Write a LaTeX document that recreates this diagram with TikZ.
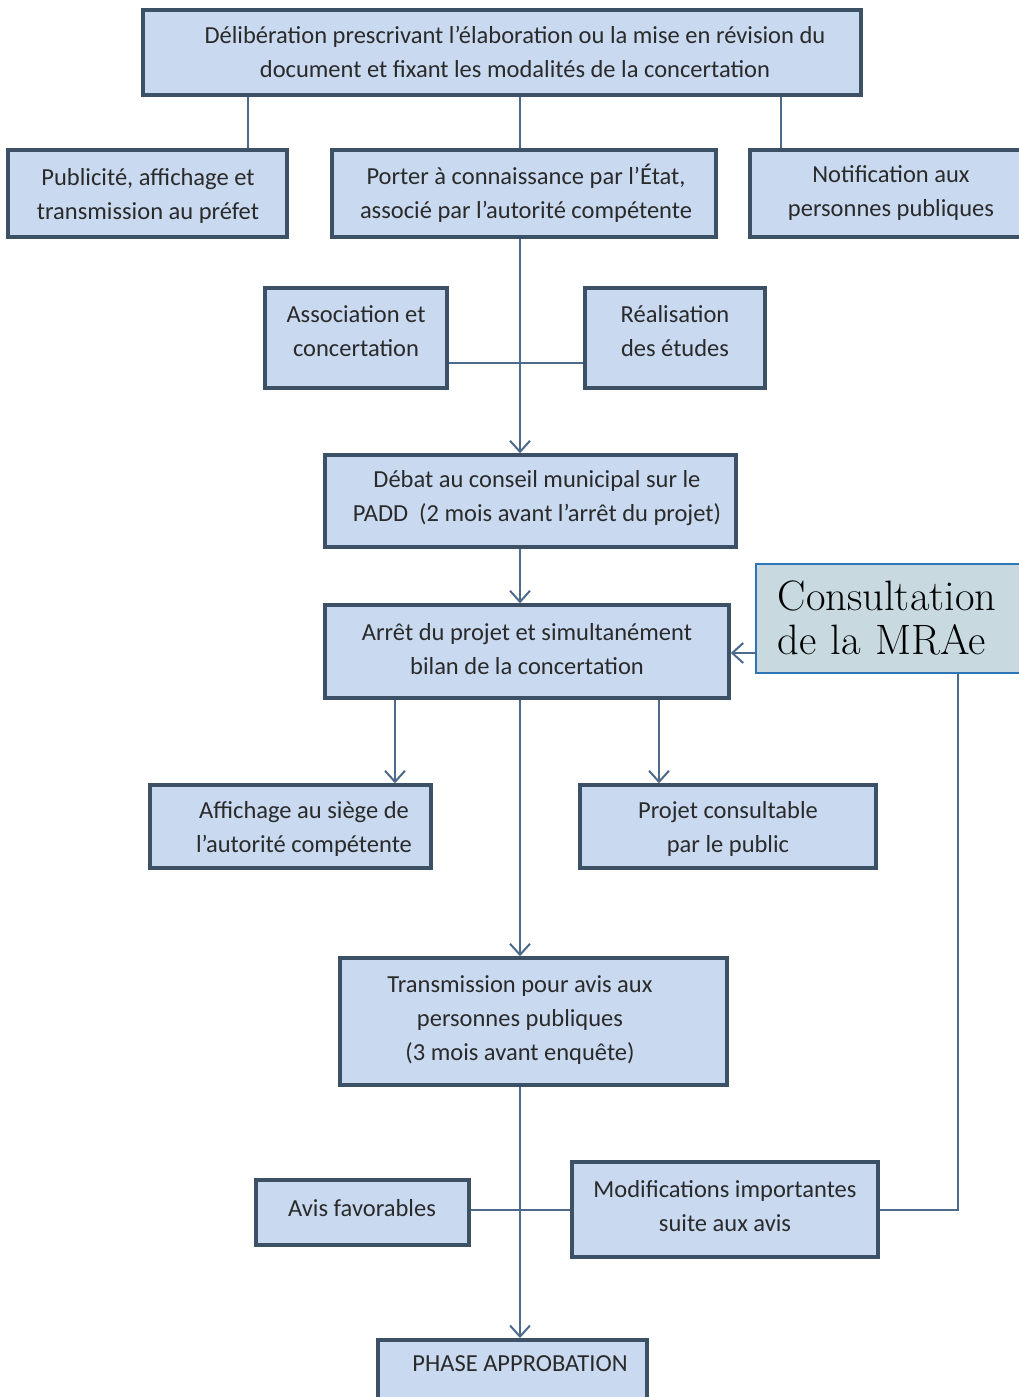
\documentclass[tikz,border=0pt]{standalone}
\usepackage{fontspec}
\setmainfont{Carlito}
\newfontfamily\lmfont{Latin Modern Roman}
\usetikzlibrary{arrows.meta}
\definecolor{boxfill}{HTML}{C8D9F0}
\definecolor{boxline}{HTML}{3D5166}
\definecolor{conn}{HTML}{4D6A8A}
\definecolor{txt}{HTML}{2A2A2A}
\definecolor{mraefill}{HTML}{C8DAE0}
\definecolor{mraeline}{HTML}{2E75B6}
\tikzset{
  box/.style={draw=boxline, fill=boxfill, line width=3.5pt, inner sep=0pt},
  boxtext/.style={align=center, text=txt, inner sep=0pt, font=\fontsize{24.5}{34}\selectfont},
  conline/.style={draw=conn, line width=2.2pt},
  arr/.style={conline, -{Straight Barb[length=11pt,width=20pt,line width=2pt]}},
}
\begin{document}
\begin{tikzpicture}[x=1pt,y=-1pt]
\clip (0,0) rectangle (1019,1397);
\fill[white] (0,0) rectangle (1019,1397);
% boxes
\node[box, minimum width=718pt, minimum height=85pt] (top) at (502,52.5) {};
\node[boxtext] (top-t) at (515,52)
  {Délibération prescrivant l’élaboration ou la mise en révision du\\document et fixant les modalités de la concertation};
\node[box, minimum width=279pt, minimum height=87pt] (pub) at (147.5,193.5) {};
\node[boxtext] (pub-t) at (148,195.5) {Publicité, affichage et\\transmission au préfet};
\node[box, minimum width=384pt, minimum height=87pt] (pac) at (524,193.5) {};
\node[boxtext] (pac-t) at (526,193) {Porter à connaissance par l’État,\\associé par l’autorité compétente};
\node[box, minimum width=290pt, minimum height=87pt] (notif) at (895,193.5) {};
\node[boxtext] (notif-t) at (891,193) {Notification aux\\personnes publiques};
\node[box, minimum width=182pt, minimum height=100pt] (assoc) at (356,338) {};
\node[boxtext] (assoc-t) at (356,331.5) {Association et\\concertation};
\node[box, minimum width=180pt, minimum height=100pt] (real) at (675,338) {};
\node[boxtext] (real-t) at (675,331.5) {Réalisation\\des études};
\node[box, minimum width=411pt, minimum height=92pt] (debat) at (530.5,501) {};
\node[boxtext] (debat-t) at (537,498) {Débat au conseil municipal sur le\\PADD\ \ (2 mois avant l’arrêt du projet)};
\node[box, minimum width=404pt, minimum height=93pt] (arret) at (527,651.5) {};
\node[boxtext] (arret-t) at (527,649.5) {Arrêt du projet et simultanément\\bilan de la concertation};
\node[draw=mraeline, fill=mraefill, line width=1.5pt, anchor=north west, align=left,
  text width=260pt, minimum height=109pt, inner xsep=22pt, text=black,
  font=\lmfont\fontsize{42.5}{44}\selectfont] (mrae) at (755,563)
  {Consultation\\de la MRAe};
\node[box, minimum width=281pt, minimum height=83pt] (affich) at (290.5,826.5) {};
\node[boxtext] (affich-t) at (304,829) {Affichage au siège de\\l’autorité compétente};
\node[box, minimum width=296pt, minimum height=83pt] (projet) at (728,826.5) {};
\node[boxtext] (projet-t) at (728,829) {Projet consultable\\par le public};
\node[box, minimum width=387pt, minimum height=127pt] (trans) at (533.5,1021.5) {};
\node[boxtext] (trans-t) at (520,1020) {Transmission pour avis aux\\personnes publiques\\(3 mois avant enquête)};
\node[box, minimum width=213pt, minimum height=65pt] (avis) at (362.5,1212.5) {};
\node[boxtext] (avis-t) at (362,1208) {Avis favorables};
\node[box, minimum width=306pt, minimum height=95pt] (modif) at (725,1209.5) {};
\node[boxtext] (modif-t) at (725,1206.5) {Modifications importantes\\suite aux avis};
\node[box, minimum width=269pt, minimum height=80pt, anchor=north] (phase) at (512.5,1338) {};
\node[boxtext] (phase-t) at (520,1364) {PHASE APPROBATION};
% connectors
\draw[conline] (top.south -| 248,0) -- (pub.north -| 248,0);
\draw[conline] (top.south -| 520,0) -- (pac.north -| 520,0);
\draw[conline] (top.south -| 781,0) -- (notif.north -| 781,0);
\draw[arr] (pac.south -| 520,0) -- (debat.north -| 520,0);
\draw[conline] (assoc.east |- 0,363) -- (real.west |- 0,363);
\draw[arr] (debat.south -| 520,0) -- (arret.north -| 520,0);
\draw[arr] (mrae.west |- 0,653) -- (arret.east |- 0,653);
\draw[arr] (arret.south -| 395,0) -- (affich.north -| 395,0);
\draw[arr] (arret.south -| 659,0) -- (projet.north -| 659,0);
\draw[arr] (arret.south -| 520,0) -- (trans.north -| 520,0);
\draw[arr] (trans.south -| 520,0) -- (phase.north -| 520,0);
\draw[conline] (avis.east |- 0,1210) -- (modif.west |- 0,1210);
\coordinate (corner) at (958,1210);
\draw[conline] (modif.east |- corner) -- (corner) -- (mrae.south -| corner);
\end{tikzpicture}
\end{document}
